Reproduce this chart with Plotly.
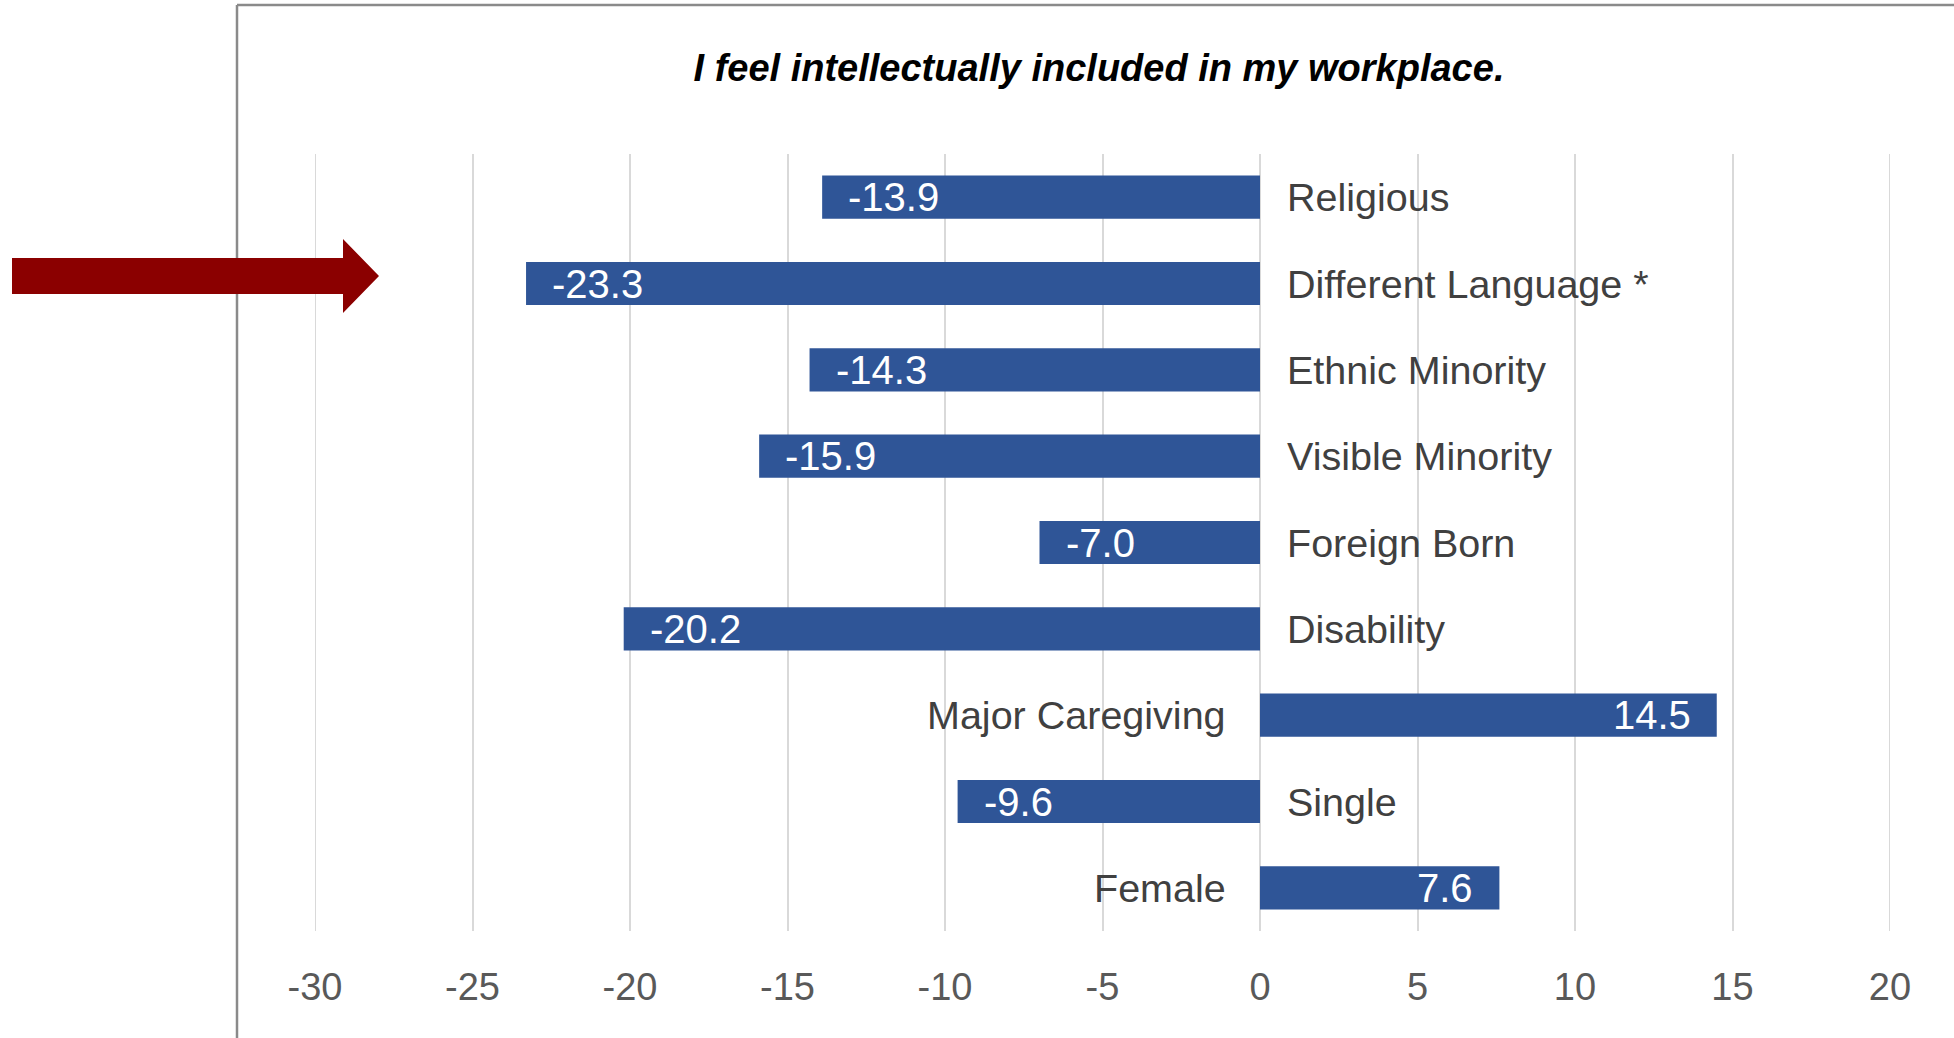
import plotly.graph_objects as go

# Difference by group, top to bottom
categories = [
    "Religious",
    "Different Language *",
    "Ethnic Minority",
    "Visible Minority",
    "Foreign Born",
    "Disability",
    "Major Caregiving",
    "Single",
    "Female",
]
values = [-13.9, -23.3, -14.3, -15.9, -7.0, -20.2, 14.5, -9.6, 7.6]
tick_values = [-30, -25, -20, -15, -10, -5, 0, 5, 10, 15, 20]
title_text = "I feel intellectually included in my workplace."

W, H = 1954, 1038
M_L, M_R, M_T, M_B = 315, 64, 154, 107
PW, PH = W - M_L - M_R, H - M_T - M_B

FONT = "Liberation Sans, Arial, sans-serif"
BAR_BLUE = "#2F5597"
GRID = "#D9D9D9"


def px(x, y):
    """Pixel position on the page -> paper coordinates."""
    return (x - M_L) / PW, 1 - (y - M_T) / PH


fig = go.Figure()
fig.add_trace(
    go.Bar(
        y=categories,
        x=values,
        orientation="h",
        width=0.5,
        marker=dict(color=BAR_BLUE, line=dict(width=0)),
        hoverinfo="x+y",
    )
)

annotations = []
for cat, v in zip(categories, values):
    # value label inside the bar end
    annotations.append(
        dict(
            x=v, y=cat, xref="x", yref="y",
            text=f"{v:.1f}",
            showarrow=False,
            xanchor="left" if v < 0 else "right",
            xshift=24 if v < 0 else -24,
            yanchor="middle",
            font=dict(family=FONT, size=40, color="white"),
        )
    )
    # category label on the opposite side of zero
    annotations.append(
        dict(
            x=0, y=cat, xref="x", yref="y",
            text=cat,
            showarrow=False,
            xanchor="left" if v < 0 else "right",
            xshift=25 if v < 0 else -32,
            yanchor="middle",
            font=dict(family=FONT, size=39.5, color="#404040"),
        )
    )

x_lo, x_hi = min(tick_values), max(tick_values)

# gridlines sitting on both ends of the scale
shapes = [
    dict(type="line", xref="x", yref="paper", x0=xv, x1=xv, y0=0, y1=1,
         line=dict(color=GRID, width=2), layer="below")
    for xv in (x_lo, x_hi)
]

# chart frame (left and top edges)
fx0, fy0 = px(237, 5)
fx1, fy1 = px(W + 5, H + 5)
shapes += [
    dict(type="line", xref="paper", yref="paper", x0=fx0, x1=fx0, y0=fy0, y1=fy1,
         line=dict(color="#8A8A8A", width=2.5)),
    dict(type="line", xref="paper", yref="paper", x0=fx0, x1=fx1, y0=fy0, y1=fy0,
         line=dict(color="#8A8A8A", width=2.5)),
]

# block arrow pointing at the highlighted group
arrow_pts = [(12, 258), (343, 258), (343, 239), (379, 276),
             (343, 313), (343, 294), (12, 294)]
path = "M " + " L ".join("{:.5f},{:.5f}".format(*px(x, y)) for x, y in arrow_pts) + " Z"
shapes.append(
    dict(type="path", xref="paper", yref="paper", path=path,
         fillcolor="#8B0000", line=dict(width=0), layer="above")
)

fig.update_layout(
    width=W,
    height=H,
    margin=dict(l=M_L, r=M_R, t=M_T, b=M_B, pad=0),
    paper_bgcolor="white",
    plot_bgcolor="white",
    showlegend=False,
    title=dict(
        text=f"<b><i>{title_text}</i></b>",
        x=1099 / W,
        y=1 - 68 / H,
        xanchor="center",
        yanchor="middle",
        font=dict(family=FONT, size=38, color="black"),
    ),
    xaxis=dict(
        range=[x_lo, x_hi],
        tickvals=tick_values,
        ticktext=[str(t) for t in tick_values],
        showgrid=True,
        gridcolor=GRID,
        gridwidth=2,
        zeroline=False,
        showline=False,
        ticks="",
        ticklabelstandoff=30,
        tickfont=dict(family=FONT, size=38, color="#595959"),
        fixedrange=True,
    ),
    yaxis=dict(
        categoryorder="array",
        categoryarray=categories,
        autorange="reversed",
        showticklabels=False,
        showgrid=False,
        zeroline=False,
        showline=False,
        ticks="",
        fixedrange=True,
    ),
    annotations=annotations,
    shapes=shapes,
    bargap=0.5,
)

fig.write_html("out.html")
